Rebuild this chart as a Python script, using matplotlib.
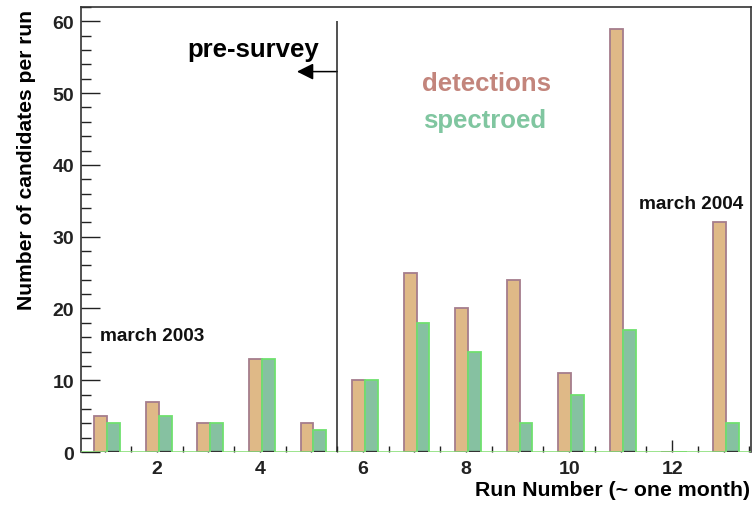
import matplotlib
matplotlib.use("Agg")
import matplotlib.pyplot as plt
from matplotlib.ticker import MultipleLocator

runs = [1, 2, 3, 4, 5, 6, 7, 8, 9, 10, 11, 12, 13]
detections = [5, 7, 4, 13, 4, 10, 25, 20, 24, 11, 59, 0, 32]
spectroed = [4, 5, 4, 13, 3, 10, 18, 14, 4, 8, 17, 0, 4]

plt.rcParams['font.family'] = ['Liberation Sans', 'DejaVu Sans']
plt.rcParams['font.weight'] = 'bold'

fig = plt.figure(figsize=(7.56, 5.06), dpi=100)
ax = fig.add_axes([81/756, 1-453/506, (751-81)/756, (453-8)/506])

det_x = [r - 0.21 for r in runs]
spe_x = [r + 0.04 for r in runs]
ax.bar(det_x, detections, width=0.25, align='edge', color='#dfb987',
       edgecolor='#a57d8c', linewidth=1.3, zorder=2)
ax.bar(spe_x, spectroed, width=0.25, align='edge', color='#86c1a1',
       edgecolor='#6fe06f', linewidth=1.3, zorder=2)

ax.set_xlim(0.53, 13.53)
ax.set_ylim(0, 62)

ax.axhline(0, color='#7fdc6c', lw=1.8, zorder=3)
for r, s in zip(runs, spectroed):
    if s > 0:
        ax.hlines(0, r + 0.06, r + 0.27, color='#333333', lw=1.6, zorder=4)

ax.xaxis.set_major_locator(MultipleLocator(2))
ax.xaxis.set_minor_locator(MultipleLocator(0.5))
ax.yaxis.set_major_locator(MultipleLocator(10))
ax.yaxis.set_minor_locator(MultipleLocator(2))
ax.tick_params(axis='both', which='both', direction='in', colors='#222222',
               labelsize=14, width=1)
ax.tick_params(axis='y', which='major', length=14, pad=5)
ax.tick_params(axis='y', which='minor', length=7)
ax.tick_params(axis='x', which='major', length=9, pad=6)
ax.tick_params(axis='x', which='minor', length=4.5)
for lab in ax.get_xticklabels() + ax.get_yticklabels():
    lab.set_fontweight('bold')

for side in ['top', 'right', 'left']:
    ax.spines[side].set_color('#333333')
    ax.spines[side].set_linewidth(1.2)
ax.spines['bottom'].set_visible(False)

# pre-survey divider and arrow
ax.vlines(5.5, 0, 60, color='#222222', lw=1.1, zorder=5)
ax.annotate('', xy=(4.72, 53), xytext=(5.5, 53),
            arrowprops=dict(arrowstyle='-|>,head_length=1.0,head_width=0.5',
                            color='black', lw=1.1, shrinkA=0, shrinkB=0))
ax.text(3.88, 55.2, 'pre-survey', ha='center', va='baseline', fontsize=18.5,
        fontweight='bold', color='black')
ax.text(8.39, 50.4, 'detections', ha='center', va='baseline', fontsize=18.5,
        fontweight='bold', color='#c3857c')
ax.text(8.37, 45.3, 'spectroed', ha='center', va='baseline', fontsize=18.5,
        fontweight='bold', color='#80c6a0')
ax.text(0.90, 15.6, 'march 2003', ha='left', va='baseline', fontsize=13.7,
        fontweight='bold', color='#111111')
ax.text(11.36, 34.0, 'march 2004', ha='left', va='baseline', fontsize=13.7,
        fontweight='bold', color='#111111')

fig.text(750/756, 1-496/506, 'Run Number (~ one month)', ha='right',
         va='baseline', fontsize=15.3, fontweight='bold')
fig.text(27/756, 1-10/506, 'Number of candidates per run', ha='center',
         va='top', rotation=90, fontsize=15.2, fontweight='bold')

fig.savefig('out.png', dpi=100)
